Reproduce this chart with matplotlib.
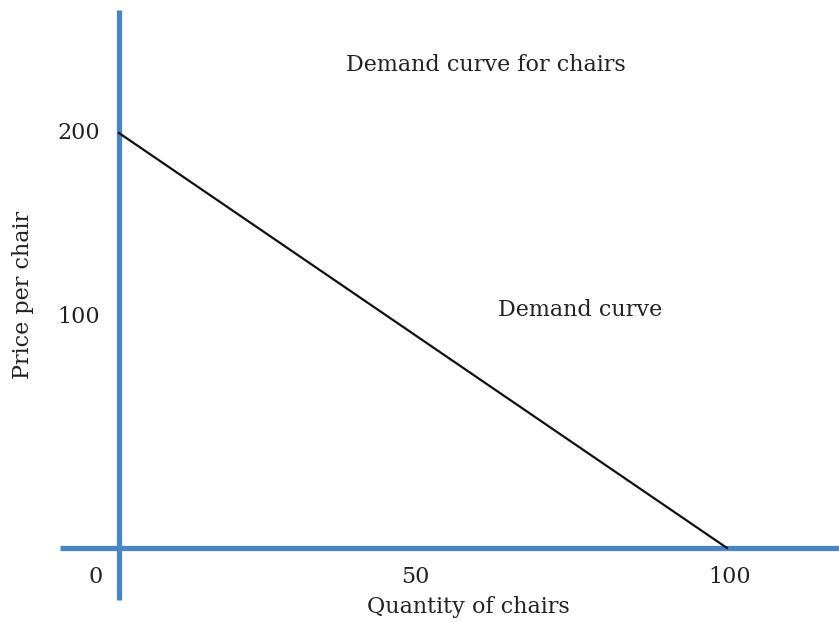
import matplotlib
matplotlib.use("Agg")
import matplotlib.pyplot as plt

# Data
quantity = [0, 100]
price = [200, 0]
x_tick_labels = ["0", "50", "100"]
y_tick_labels = ["100", "200"]
title = "Demand curve for chairs"
curve_label = "Demand curve"
xlabel = "Quantity of chairs"
ylabel = "Price per chair"

W, H = 839, 622
fig = plt.figure(figsize=(W / 100, H / 100), dpi=100)
ax = fig.add_axes([0, 0, 1, 1])
ax.set_xlim(-119 / 6.08, (W - 119) / 6.08)
ax.set_ylim(-(H - 548) / 2.075, 548 / 2.075)
ax.axis("off")

blue = "#4a86c2"
font = dict(family="DejaVu Serif", color="#222222")
fs = 16

# axes lines
ax.plot([0, 0], [-25.06, 259.3], color=blue, lw=3.8, solid_capstyle="butt", zorder=2)
ax.plot([-9.7, 118.5], [0, 0], color=blue, lw=3.8, solid_capstyle="butt", zorder=2)

# demand curve
ax.plot(quantity, price, color="#111111", lw=1.6, zorder=3)

# tick labels
x_pos = [-3.9, 48.8, 100.5]
for lab, xp in zip(x_tick_labels, x_pos):
    ax.text(xp, -14, lab, ha="center", va="center", fontsize=fs, **font)
y_pos = [111.3, 200.0]
for lab, yp in zip(y_tick_labels, y_pos):
    ax.text(-6.6, yp, lab, ha="center", va="center", fontsize=fs, **font)

ax.text(57.4, -28.4, xlabel, ha="center", va="center", fontsize=fs, **font)
ax.text(-15.8, 121.9, ylabel, ha="center", va="center", rotation=90, fontsize=fs, **font)
ax.text(60.4, 232.8, title, ha="center", va="center", fontsize=fs, **font)
ax.text(75.8, 114.7, curve_label, ha="center", va="center", fontsize=fs, **font)

fig.savefig("out.png", dpi=100, facecolor="white")
